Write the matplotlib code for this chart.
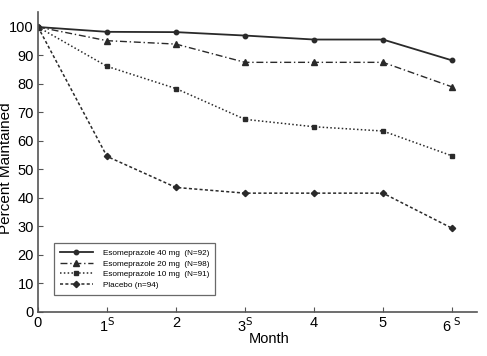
import matplotlib
matplotlib.use("Agg")
import matplotlib.pyplot as plt

months = [0, 1, 2, 3, 4, 5, 6]
eso40 = [100, 98.3, 98.2, 97.0, 95.6, 95.6, 88.3]
eso20 = [100, 95.2, 94.0, 87.6, 87.6, 87.6, 79.0]
eso10 = [100, 86.2, 78.4, 67.6, 65.0, 63.5, 54.8]
placebo = [100, 54.6, 43.7, 41.7, 41.7, 41.7, 29.4]
labels = ["Esomeprazole 40 mg  (N=92)", "Esomeprazole 20 mg  (N=98)",
          "Esomeprazole 10 mg  (N=91)", "Placebo (n=94)"]
xticklabels = ["0", r"1$^{\mathrm{S}}$", "2", r"3$^{\mathrm{S}}$", "4", "5", r"6$^{\ \mathrm{S}}$"]
yticks = list(range(0, 101, 10))

plt.rcParams['font.family'] = ['Liberation Sans', 'DejaVu Sans']
fig = plt.figure(figsize=(4.87, 3.56), dpi=100)
ax = fig.add_axes([0.078, 0.1236, 0.901, 0.843])

c = "#2a2a2a"
ax.plot(months, eso40, color=c, lw=1.3, ls='-', marker='o', ms=3.2, label=labels[0])
ax.plot(months, eso20, color=c, lw=1.0, ls=(0, (5, 2, 1, 2)), marker='^', ms=4, label=labels[1])
ax.plot(months, eso10, color=c, lw=1.1, ls=(0, (1, 1.5)), marker='s', ms=3.5, label=labels[2])
ax.plot(months, placebo, color=c, lw=1.1, ls=(0, (2, 1.5)), marker='D', ms=3.2, label=labels[3])

ax.set_xlim(0, 6.36)
ax.set_ylim(0, 105.3)
ax.set_xticks(months)
ax.set_xticklabels(xticklabels, fontsize=10.5)
ax.set_yticks(yticks)
ax.set_yticklabels([str(v) for v in yticks], fontsize=10.5)
ax.tick_params(direction='in', length=3.5, width=0.8, color='#555555', pad=3)
for s in ['top', 'right']:
    ax.spines[s].set_visible(False)
for s in ['left', 'bottom']:
    ax.spines[s].set_color('#555555')
    ax.spines[s].set_linewidth(1.2)
ax.set_xlabel("Month", fontsize=10.5)
ax.xaxis.set_label_coords(0.527, -0.065)
ax.set_ylabel("Percent Maintained", fontsize=11)
ax.yaxis.set_label_coords(-0.056, 0.48)

leg = ax.legend(loc='lower left', bbox_to_anchor=(0.036, 0.057), borderaxespad=0,
                frameon=True, fancybox=False, edgecolor='#444444', handlelength=4.0,
                borderpad=0.75, labelspacing=0.35, handletextpad=1.2,
                prop={'family': ['Liberation Sans', 'DejaVu Sans'], 'size': 5.9})
leg.get_frame().set_linewidth(0.9)

fig.savefig("out.png", dpi=100)
